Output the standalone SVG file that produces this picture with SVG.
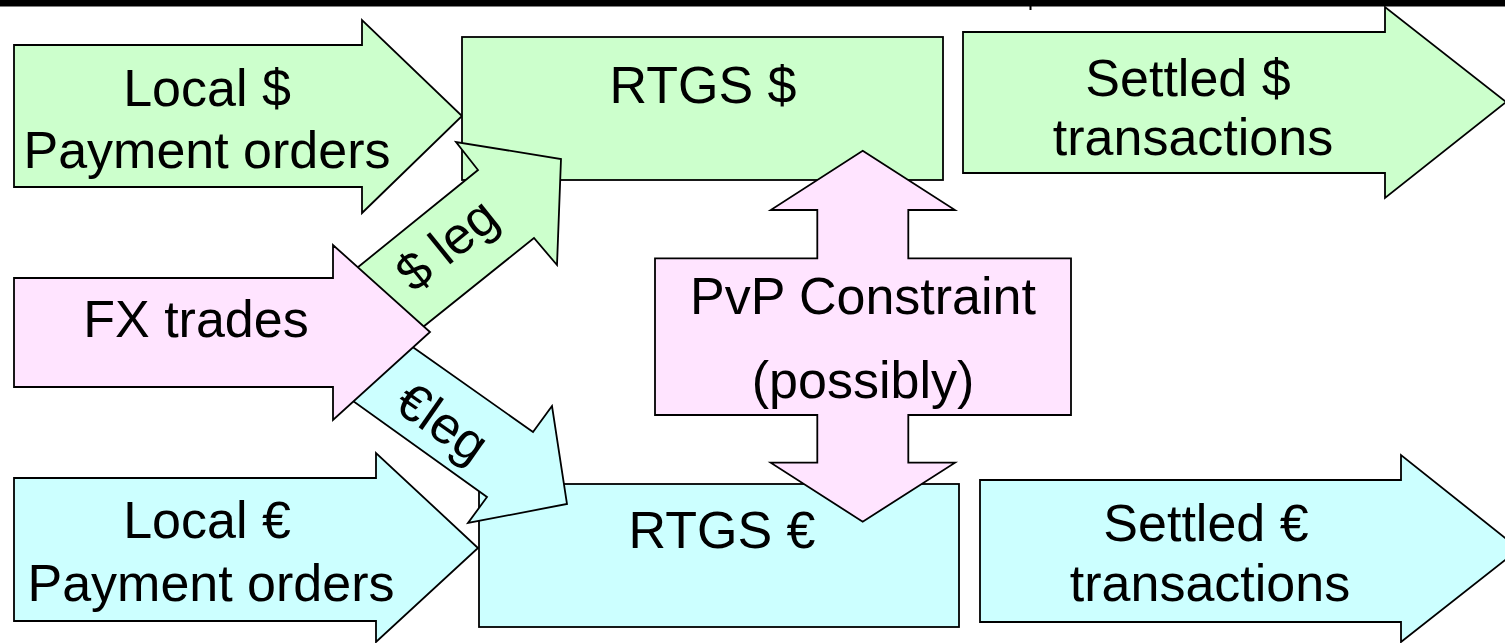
<svg xmlns="http://www.w3.org/2000/svg" width="1505" height="643" viewBox="0 0 1505 643">
<style>
.s{stroke:#000;stroke-width:1.8;stroke-linejoin:miter}
.g{fill:#CCFFCC}
.p{fill:#FFE4FF}
.c{fill:#CCFFFF}
text{font-family:"Liberation Sans",Arial,sans-serif;font-size:52px;fill:#000;text-anchor:middle}
</style>
<rect x="0" y="0" width="1505" height="6.5" fill="#000"/>
<rect x="1029.5" y="6" width="2" height="4" fill="#000"/>
<g id="local-usd">
<polygon class="s g" points="14,45 362,45 362,20 462,116 362,213 362,187 14,187"/>
<text x="207" y="106">Local $</text>
<text x="207" y="168">Payment orders</text>
</g>
<g id="rtgs-usd">
<rect class="s g" x="462" y="37" width="481" height="143"/>
<text x="703" y="103">RTGS $</text>
</g>
<g id="connectors">
<g id="usd-leg">
<polygon class="s g" points="352,272 478,170 456,142 561,159 557,265 534,238 418,331"/>
<text transform="translate(447,245) rotate(-39)" y="17" font-size="48">$ leg</text>
</g>
</g>
<g id="local-eur">
<polygon class="s c" points="14,478 376,478 376,453 478,548 376,642 376,621 14,621"/>
<text x="207" y="538">Local €</text>
<text x="211" y="601">Payment orders</text>
</g>
<g id="rtgs-eur">
<rect class="s c" x="479" y="484" width="480" height="143"/>
<text x="722" y="548">RTGS €</text>
</g>
<g id="eur-leg-g">
<polygon class="s c" points="407,343 533,432 552,406 567,504 468,523 487,497 346,396"/>
<text transform="translate(442,423) rotate(35)" y="17" font-size="48">€leg</text>
</g>
<g id="fx-trades">
<polygon class="s p" points="14,278 333,278 333,245 430,332 333,420 333,387 14,387"/>
<text x="196" y="337">FX trades</text>
</g>
<g id="settled-usd">
<polygon class="s g" points="963,32 1385,32 1385,7 1506,102 1385,198 1385,173 963,173"/>
<text x="1188" y="96">Settled $</text>
<text x="1193" y="155">transactions</text>
</g>
<g id="settled-eur">
<polygon class="s c" points="980,480 1401,480 1401,455 1519,549 1401,642 1401,622 980,622"/>
<text x="1206" y="541">Settled €</text>
<text x="1210" y="601">transactions</text>
</g>
<g id="pvp">
<polygon class="s p" points="862.7,150.7 955,210 908.3,210 908.3,258.3 1071,258.3 1071,415 908.3,415 908.3,462.7 955,462.7 862.7,521.7 770.7,462.7 817.3,462.7 817.3,415 655,415 655,258.3 817.3,258.3 817.3,210 770.7,210"/>
<text x="863" y="314">PvP Constraint</text>
<text x="863" y="398">(possibly)</text>
</g>
</svg>
